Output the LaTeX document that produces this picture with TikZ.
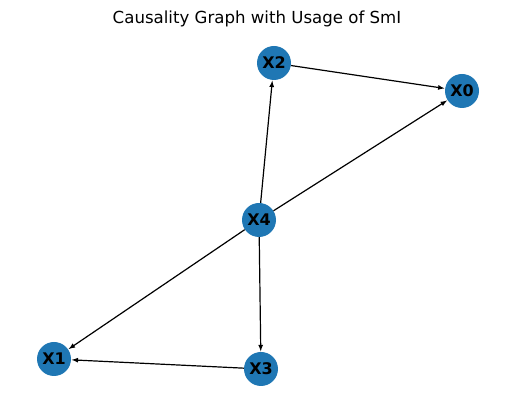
\documentclass[tikz,border=0pt]{standalone}
\usepackage{fontspec}
\setmainfont{DejaVu Sans}
\usetikzlibrary{arrows}
\definecolor{nodeblue}{HTML}{1F77B4}

\begin{document}
\begin{tikzpicture}[x=1pt, y=-1pt,
	var/.style={circle, fill=nodeblue, minimum size=34pt, inner sep=0pt, font=\fontsize{16}{19}\selectfont\bfseries},
	edge/.style={-latex, line width=1.2pt, shorten >=0.5pt}]
	\useasboundingbox (0,0) rectangle (515,411);
	\path (257,19) node (title) {\fontsize{16.6}{19}\selectfont Causality Graph with Usage of SmI};

	\node [var] (X2) at (274,63) {X2};
	\node [var] (X0) at (462,91) {X0};
	\node [var] (X4) at (259,220) {X4};
	\node [var] (X1) at (54,359) {X1};
	\node [var] (X3) at (261,369) {X3};

	\draw [edge] (X2) -- (X0);
	\draw [edge] (X4) -- (X2);
	\draw [edge] (X4) -- (X0);
	\draw [edge] (X4) -- (X1);
	\draw [edge] (X4) -- (X3);
	\draw [edge] (X3) -- (X1);
	
\end{tikzpicture}
\end{document}
